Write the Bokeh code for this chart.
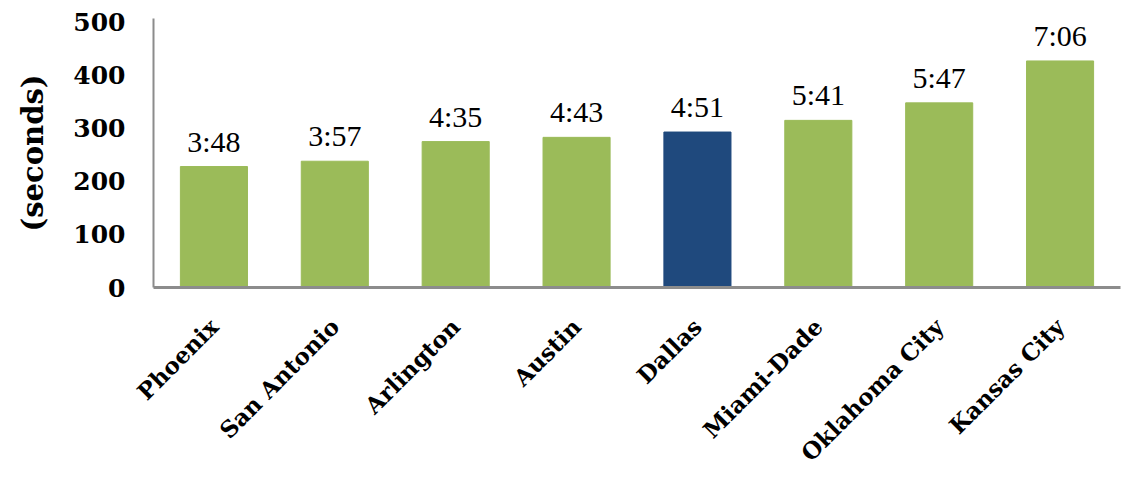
import math
from bokeh.plotting import figure
from bokeh.models import ColumnDataSource, Range1d, LabelSet
from bokeh.embed import file_html
from bokeh.resources import INLINE

cities = ["Phoenix", "San Antonio", "Arlington", "Austin", "Dallas",
          "Miami-Dade", "Oklahoma City", "Kansas City"]
seconds = [228, 238, 275, 283, 293, 315, 348, 427]
time_labels = ["3:48", "3:57", "4:35", "4:43", "4:51", "5:41", "5:47", "7:06"]
colors = ["#9BBB59", "#9BBB59", "#9BBB59", "#9BBB59", "#1F497D",
          "#9BBB59", "#9BBB59", "#9BBB59"]
y_ticks = [0, 100, 200, 300, 400, 500]

FONT = "DejaVu Serif"

src = ColumnDataSource(dict(city=cities, sec=seconds, lab=time_labels, col=colors))

p = figure(x_range=cities, y_range=Range1d(0, 507), width=1138, height=481,
           output_backend="svg", toolbar_location=None,
           min_border_left=153, min_border_right=18, min_border_top=18,
           min_border_bottom=194)
p.outline_line_color = None
p.xgrid.grid_line_color = None
p.ygrid.grid_line_color = None
p.x_range.range_padding = 0

p.vbar(x="city", top="sec", width=0.555, color="col", source=src)

labels = LabelSet(x="city", y="sec", text="lab", source=src, text_align="center",
                  text_baseline="bottom", y_offset=9, text_font=FONT,
                  text_font_size="30px", text_color="#000000")
p.add_layout(labels)

ax = p.yaxis[0]
ax.ticker = y_ticks
ax.axis_line_color = "#8C8C8C"
ax.axis_line_width = 2
ax.major_tick_line_color = None
ax.minor_tick_line_color = None
ax.major_tick_out = 0
ax.major_label_standoff = 28
ax.major_label_text_font = FONT
ax.major_label_text_font_style = "bold"
ax.major_label_text_font_size = "25px"
ax.major_label_text_color = "#000000"
ax.axis_label = "(seconds)"
ax.axis_label_text_font = FONT
ax.axis_label_text_font_style = "bold"
ax.axis_label_text_font_size = "29px"
ax.axis_label_text_color = "#000000"
ax.axis_label_standoff = 20

bx = p.xaxis[0]
bx.axis_line_color = "#8C8C8C"
bx.axis_line_width = 3
bx.major_tick_line_color = None
bx.major_tick_out = 0
bx.major_label_orientation = math.pi / 4
bx.major_label_standoff = 35
bx.major_label_text_font = FONT
bx.major_label_text_font_style = "bold"
bx.major_label_text_font_size = "23px"
bx.major_label_text_color = "#000000"

open("out.html", "w").write(file_html(p, INLINE))
